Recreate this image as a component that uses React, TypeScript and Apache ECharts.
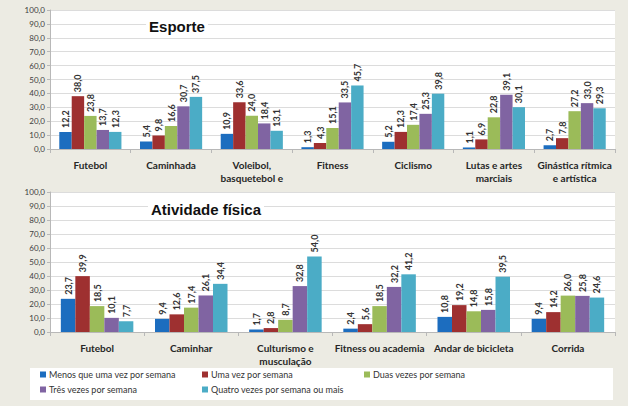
import React, { useEffect, useRef } from "react";
import * as echarts from "echarts";

const seriesNames = [
  "Menos que uma vez por semana",
  "Uma vez por semana",
  "Duas vezes por semana",
  "Três vezes por semana",
  "Quatro vezes por semana ou mais",
];
const colors = ["#1c6dbf", "#9e3030", "#9bbb59", "#8064a2", "#4bacc6"];

const esporteCategories = [
  "Futebol",
  "Caminhada",
  "Voleibol,\nbasquetebol e",
  "Fitness",
  "Ciclismo",
  "Lutas e artes\nmarciais",
  "Ginástica rítmica\ne artística",
];
const esporteMenos = [12.2, 5.4, 10.9, 1.3, 5.2, 1.1, 2.7];
const esporteUma = [38.0, 9.8, 33.6, 4.3, 12.3, 6.9, 7.8];
const esporteDuas = [23.8, 16.6, 24.0, 15.1, 17.4, 22.8, 27.2];
const esporteTres = [13.7, 30.7, 18.4, 33.5, 25.3, 39.1, 33.0];
const esporteQuatro = [12.3, 37.5, 13.1, 45.7, 39.8, 30.1, 29.3];

const atividadeCategories = [
  "Futebol",
  "Caminhar",
  "Culturismo e\nmusculação",
  "Fitness ou academia",
  "Andar de bicicleta",
  "Corrida",
];
const atividadeMenos = [23.7, 9.4, 1.7, 2.4, 10.8, 9.4];
const atividadeUma = [39.9, 12.6, 2.8, 5.6, 19.2, 14.2];
const atividadeDuas = [18.5, 17.4, 8.7, 18.5, 14.8, 26.0];
const atividadeTres = [10.1, 26.1, 32.8, 32.2, 15.8, 25.8];
const atividadeQuatro = [7.7, 34.4, 54.0, 41.2, 39.5, 24.6];

const esporteSeries = [esporteMenos, esporteUma, esporteDuas, esporteTres, esporteQuatro];
const atividadeSeries = [atividadeMenos, atividadeUma, atividadeDuas, atividadeTres, atividadeQuatro];

const fmt = (v: number) => v.toFixed(1).replace(".", ",");
const FONT = "Lato, 'Open Sans', sans-serif";

export default function App() {
  const ref = useRef<HTMLDivElement>(null);
  useEffect(() => {
    if (!ref.current) return;
    const chart = echarts.init(ref.current, null, { renderer: "svg" });

    const makeX = (gridIndex: number, data: string[]) => ({
      type: "category",
      gridIndex,
      data,
      axisLine: { show: true, lineStyle: { color: "#b8b8b8", width: 1 } },
      axisTick: { show: true, inside: false, length: 4, lineStyle: { color: "#b8b8b8" } },
      axisLabel: {
        interval: 0,
        margin: 9,
        fontFamily: FONT,
        fontWeight: "bold",
        fontSize: 10,
        lineHeight: 13,
        color: "#262626",
      },
    });
    const makeY = (gridIndex: number) => ({
      type: "value",
      gridIndex,
      min: 0,
      max: 100,
      interval: 10,
      axisLine: { show: true, lineStyle: { color: "#b8b8b8" } },
      axisTick: { show: true, length: 3, lineStyle: { color: "#b8b8b8" } },
      splitLine: { show: true, lineStyle: { color: "#dcdcdc", width: 1 } },
      axisLabel: {
        formatter: (v: number) => fmt(v),
        fontFamily: FONT,
        fontSize: 8,
        color: "#404040",
        margin: 5,
      },
    });

    const series: any[] = [];
    const addSeries = (arrs: number[][], idx: number) => {
      arrs.forEach((arr, i) => {
        series.push({
          name: seriesNames[i],
          type: "bar",
          xAxisIndex: idx,
          yAxisIndex: idx,
          data: arr,
          barGap: "0%",
          barCategoryGap: "23%",
          itemStyle: { color: colors[i] },
          label: {
            show: true,
            position: "top",
            rotate: 90,
            align: "left",
            verticalAlign: "middle",
            distance: 4,
            formatter: (p: any) => fmt(p.value),
            fontFamily: FONT,
            fontWeight: "bold",
            fontSize: 9,
            color: "#333333",
          },
        });
      });
    };
    addSeries(esporteSeries, 0);
    addSeries(atividadeSeries, 1);

    const legendPos = [
      { left: 40, top: 370 },
      { left: 202, top: 370 },
      { left: 364, top: 370 },
      { left: 40, top: 385 },
      { left: 202, top: 385 },
    ];
    const legends = seriesNames.map((n, i) => ({
      data: [n],
      left: legendPos[i].left,
      top: legendPos[i].top,
      itemWidth: 6,
      itemHeight: 6,
      itemGap: 3,
      icon: "rect",
      padding: 0,
      textStyle: { fontFamily: FONT, fontSize: 9, color: "#333333", padding: [0, 0, 0, -2] },
      selectedMode: false,
    }));

    const titleStyle = {
      fontFamily: "'Liberation Sans', Arial, sans-serif",
      fontWeight: "bold",
      fontSize: 15,
      fill: "#111111",
      textAlign: "center",
      textVerticalAlign: "middle",
      backgroundColor: "#ffffff",
      padding: [2, 3, 2, 3],
    };

    chart.setOption({
      animation: false,
      backgroundColor: "#ecebe3",
      grid: [
        { left: 50, top: 10, width: 565, height: 139, show: true, backgroundColor: "#ffffff", borderWidth: 0 },
        { left: 50, top: 192, width: 565, height: 140, show: true, backgroundColor: "#ffffff", borderWidth: 0 },
      ],
      xAxis: [makeX(0, esporteCategories), makeX(1, atividadeCategories)],
      yAxis: [makeY(0), makeY(1)],
      legend: legends,
      graphic: [
        {
          type: "rect",
          shape: { x: 30, y: 368, width: 583, height: 32 },
          style: { fill: "#ffffff" },
          z: -1,
          silent: true,
        },
        {
          type: "text",
          x: 177,
          y: 26,
          z: 100,
          style: { ...titleStyle, text: "Esporte" },
        },
        {
          type: "text",
          x: 206,
          y: 209,
          z: 100,
          style: { ...titleStyle, text: "Atividade física" },
        },
      ],
      series,
    });
    return () => chart.dispose();
  }, []);
  return (
    <div
      ref={ref}
      style={{ position: "absolute", left: 0, top: 0, width: 628, height: 406 }}
    />
  );
}
